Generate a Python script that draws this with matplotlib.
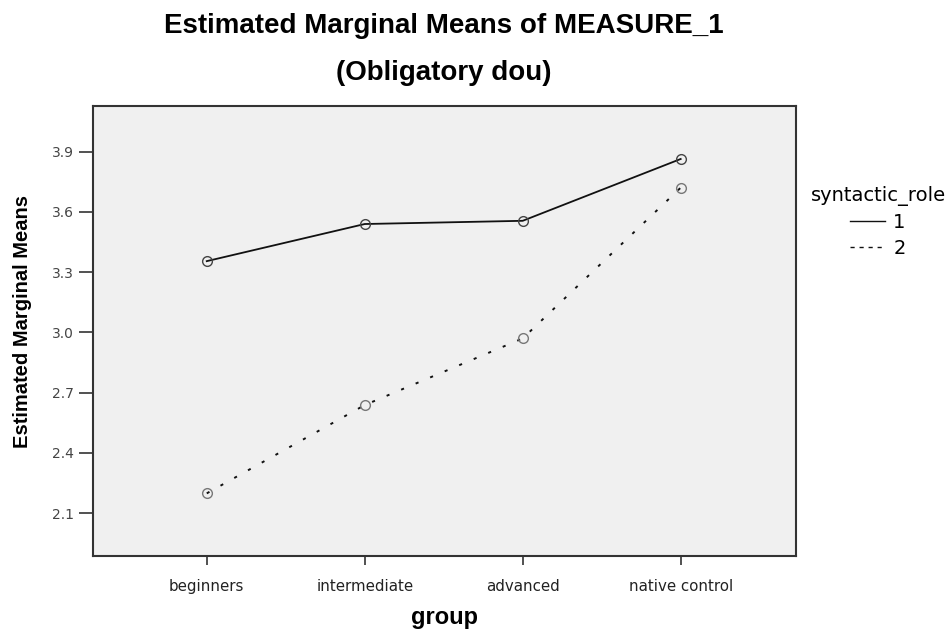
import matplotlib
matplotlib.use("Agg")
import matplotlib.pyplot as plt
from matplotlib.lines import Line2D
from matplotlib import font_manager as fm

plt.rcParams['font.family'] = ['DejaVu Sans']

groups = ["beginners", "intermediate", "advanced", "native control"]
role1 = [3.355, 3.54, 3.556, 3.864]
role2 = [2.198, 2.638, 2.970, 3.721]
yticks = [2.1, 2.4, 2.7, 3.0, 3.3, 3.6, 3.9]
legend_labels = ["1", "2"]

W, H = 952, 631
fig = plt.figure(figsize=(W / 100, H / 100), dpi=100)
ax = fig.add_axes([93 / W, 1 - 556 / H, (796 - 93) / W, (556 - 106) / H])
ax.set_facecolor("#f0f0f0")

x = list(range(len(groups)))
ax.plot(x, role1, color="#111111", lw=1.3, linestyle="-",
        marker="o", markersize=7, markerfacecolor="none",
        markeredgecolor="#444444", markeredgewidth=1.0)
ax.plot(x, role2, color="#111111", lw=1.4, linestyle=(0, (1.6, 6.5)),
        marker="o", markersize=7, markerfacecolor="none",
        markeredgecolor="#777777", markeredgewidth=1.0)

ax.set_xlim(-0.72, 3.73)
ax.set_ylim(1.886, 4.128)
ax.set_xticks(x)
ax.set_xticklabels(groups, fontsize=10.8, color="#222222")
ax.set_yticks(yticks)
ax.set_yticklabels([f"{v:.1f}" for v in yticks], fontsize=10, color="#444444")
ax.tick_params(axis="y", length=10, width=1.2, color="#333333", pad=4)
ax.tick_params(axis="x", length=6.5, width=1.2, color="#333333", pad=10)
for s in ax.spines.values():
    s.set_color("#333333")
    s.set_linewidth(1.5)

tfam = ["Liberation Sans", "DejaVu Sans"]
fig.text(444 / W, 1 - 624 / H, "group", ha="center", va="baseline",
         fontsize=17, fontweight="bold", family=tfam)

try:
    fm.findfont(fm.FontProperties(family="Liberation Sans Narrow", weight="bold"),
                fallback_to_default=False)
    yl_fam, yl_size = ["Liberation Sans Narrow"], 18
except Exception:
    yl_fam, yl_size = tfam, 14.5
fig.text(22.5 / W, 1 - 321 / H, "Estimated Marginal Means", rotation=90,
         ha="center", va="center", fontsize=yl_size, fontweight="bold",
         family=yl_fam)

fig.text(444 / W, 1 - 33 / H, "Estimated Marginal Means of MEASURE_1",
         ha="center", va="baseline", fontsize=20, fontweight="bold", family=tfam)
fig.text(444 / W, 1 - 80 / H, "(Obligatory dou)",
         ha="center", va="baseline", fontsize=20, fontweight="bold", family=tfam)

h1 = Line2D([], [], color="#111111", lw=1.0, linestyle="-")
h2 = Line2D([], [], color="#111111", lw=1.0, linestyle=(0, (3, 3.5)))
leg = fig.legend([h1, h2], legend_labels, title="syntactic_role",
                 loc="center", bbox_to_anchor=(878 / W, 1 - 222 / H),
                 frameon=False, fontsize=14, title_fontsize=14,
                 handlelength=1.8, handletextpad=0.4, labelspacing=0.35,
                 borderaxespad=0)

fig.savefig("out.png", dpi=100)
